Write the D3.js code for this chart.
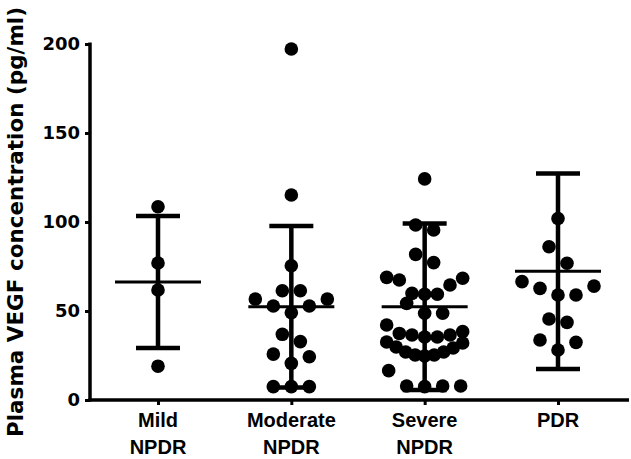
<!DOCTYPE html>
<html><head><meta charset="utf-8">
<script src="https://cdn.jsdelivr.net/npm/d3@7"></script>
<style>
html,body{margin:0;padding:0;background:#fff;}
text{font-family:"DejaVu Sans",Arial,sans-serif;font-weight:bold;fill:#000;}
</style></head>
<body>
<svg id="chart" width="631" height="459"></svg>
<script>
// ---- data ----
const categories = ["Mild NPDR", "Moderate NPDR", "Severe NPDR", "PDR"];
const mildNPDR = [108.6, 77, 61.8, 19];
const moderateNPDR = [197.2, 115.2, 75.4, 61.4, 61.4, 56.7, 56.7, 52.8, 52.8, 49, 36.9, 32.8, 25.8, 24.3, 20.6, 7.5, 7.5, 7.5];
const severeNPDR = [124.2, 98.3, 95.5, 81.8, 77.2, 68.9, 68.4, 67.4, 64.6, 59.9, 59.4, 59.4, 54.3, 48.7, 48.7, 42.1, 38.4, 37.4, 36.5, 36.5, 35.4, 35.4, 32.6, 32, 29.8, 29.2, 27, 27, 25.3, 25.3, 24.7, 16.5, 7.9, 7.9, 7.9, 7.5];
const pdr = [102, 86.1, 76.8, 66.5, 64, 62.7, 59, 59, 45.5, 43.6, 33.7, 32.4, 28.1];
const groupMeans = [66.3, 52.4, 52.4, 72.3];
const groupSDs = [37.1, 45.4, 46.8, 54.9];
const yTicks = [0, 50, 100, 150, 200];
const yTitle = "Plasma VEGF concentration (pg/ml)";

const groups = [mildNPDR, moderateNPDR, severeNPDR, pdr];

const svg = d3.select("#chart");
const x = d3.scalePoint().domain(categories).range([158, 558]);
const y = d3.scaleLinear().domain([0, 200]).range([400, 44]);

const R = 6.8, ROW_H = 10, SPACING = 18, MAX_HALF = 38;

// Prism-like scatter layout: values grouped in rows, lowest in the middle, spread outward
function swarm(values) {
  const sorted = values.map((v, i) => ({v, i})).sort((a, b) => a.v - b.v);
  const rows = [];
  sorted.forEach(p => {
    const last = rows[rows.length - 1];
    if (last && p.v < last.start + ROW_H) last.pts.push(p);
    else rows.push({start: p.v, pts: [p]});
  });
  const out = new Array(values.length);
  rows.forEach(row => {
    const n = row.pts.length;
    const sp = n > 1 ? Math.min(SPACING, 2 * MAX_HALF / (n - 1)) : 0;
    const slots = [];
    if (n % 2 === 1) { slots.push(0); for (let k = 1; slots.length < n; k++) { slots.push(k, -k); } }
    else { for (let k = 0.5; slots.length < n; k++) { slots.push(k, -k); } }
    row.pts.forEach((p, j) => { out[p.i] = {v: p.v, dx: slots[j] * sp}; });
  });
  return out;
}

// axes
const yAxis = d3.axisLeft(y).tickValues(yTicks).tickSize(5).tickPadding(5);
const gy = svg.append("g").attr("transform", "translate(90,0)").call(yAxis);
gy.select(".domain").remove();
gy.selectAll(".tick line").attr("stroke", "#000").attr("stroke-width", 3);
gy.selectAll(".tick text").attr("font-size", 18).attr("font-family", "'DejaVu Sans',Arial,sans-serif").attr("font-weight", "bold");

svg.append("line").attr("x1", 90).attr("x2", 90).attr("y1", y(200) - 1.5).attr("y2", y(0) + 1.5)
  .attr("stroke", "#000").attr("stroke-width", 3.5);

const xAxis = d3.axisBottom(x).tickSize(5).tickFormat("");
const gx = svg.append("g").attr("transform", `translate(0,${y(0)})`).call(xAxis);
gx.select(".domain").remove();
gx.selectAll(".tick line").attr("stroke", "#000").attr("stroke-width", 3);
svg.append("line").attr("x1", 88.5).attr("x2", 629).attr("y1", y(0)).attr("y2", y(0))
  .attr("stroke", "#000").attr("stroke-width", 3.5);

// category labels (two lines)
categories.forEach(c => {
  const parts = c.split(" ");
  const t = svg.append("text").attr("text-anchor", "middle").attr("font-size", 20)
    .style("font-family", "'Liberation Sans',Arial,sans-serif");
  parts.forEach((p, j) => {
    t.append("tspan").attr("x", x(c)).attr("y", 427 + j * 27).text(p);
  });
});

// y title
svg.append("text").attr("transform", "translate(23,222) rotate(-90)")
  .attr("text-anchor", "middle").attr("font-size", 21.5).text(yTitle);

// error bars & means
categories.forEach((c, i) => {
  const cx = x(c), m = groupMeans[i], s = groupSDs[i];
  const g = svg.append("g");
  g.append("line").attr("x1", cx).attr("x2", cx).attr("y1", y(m + s)).attr("y2", y(m - s))
    .attr("stroke", "#000").attr("stroke-width", 4.5);
  [m + s, m - s].forEach(v => g.append("line").attr("x1", cx - 22).attr("x2", cx + 22)
    .attr("y1", y(v)).attr("y2", y(v)).attr("stroke", "#000").attr("stroke-width", 4.5));
  g.append("line").attr("x1", cx - 43).attr("x2", cx + 43).attr("y1", y(m)).attr("y2", y(m))
    .attr("stroke", "#000").attr("stroke-width", 3);
});

// points
groups.forEach((vals, i) => {
  const cx = x(categories[i]);
  svg.append("g").selectAll("circle").data(swarm(vals)).join("circle")
    .attr("cx", d => cx + d.dx).attr("cy", d => y(d.v)).attr("r", R).attr("fill", "#000");
});
</script>
</body></html>
